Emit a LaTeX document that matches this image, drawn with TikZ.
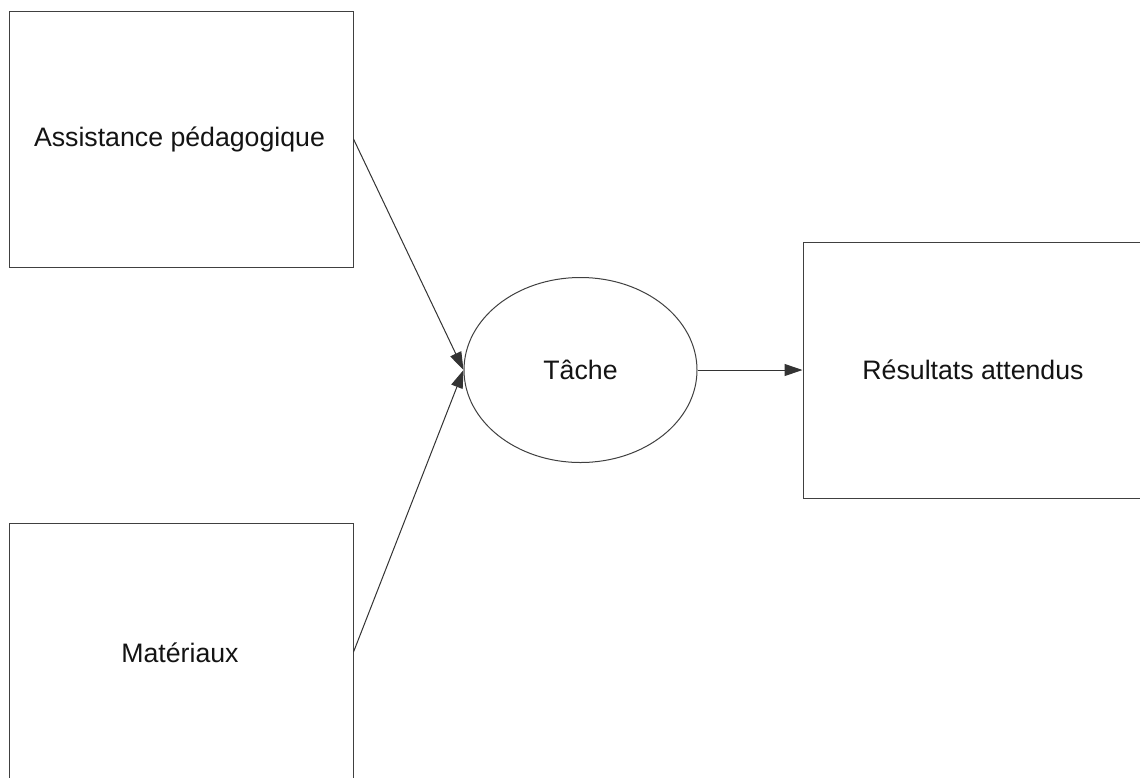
\documentclass[tikz,border=0pt]{standalone}
\usepackage{fontspec}
\setmainfont{Liberation Sans}
\usetikzlibrary{arrows.meta,shapes.geometric}
\begin{document}
\begin{tikzpicture}[x=1pt,y=-1pt,
  boxstyle/.style={draw=black!75,line width=1pt,rectangle,inner sep=0pt},
  ellstyle/.style={draw=black!75,line width=1pt,ellipse,inner sep=0pt},
  lbl/.style={font=\fontsize{26.7}{32}\selectfont,text=black!92},
  conn/.style={draw=black!80,line width=1pt,-{Triangle[length=18pt,width=12pt]}}]
\clip (0,0) rectangle (1140,777);
\fill[white] (0,0) rectangle (1140,777);
\node[boxstyle,minimum width=344pt,minimum height=256pt] (a) at (181,139) {};
\node[boxstyle,minimum width=344pt,minimum height=258pt] (m) at (181,652) {};
\node[boxstyle,minimum width=340pt,minimum height=256pt] (r) at (973,370) {};
\node[ellstyle,minimum width=233pt,minimum height=185pt] (t) at (580.5,370) {};
\node[lbl] (al) at (179.5,139) {Assistance pédagogique};
\node[lbl] (ml) at (180,653) {Matériaux};
\node[lbl] (tl) at (580.5,370) {Tâche};
\node[lbl] (rl) at (973,370) {Résultats attendus};
\draw[conn] (a.east) -- (t.west);
\draw[conn] (m.east) -- (t.west);
\draw[conn] (t.east) -- (r.west);
\end{tikzpicture}
\end{document}
